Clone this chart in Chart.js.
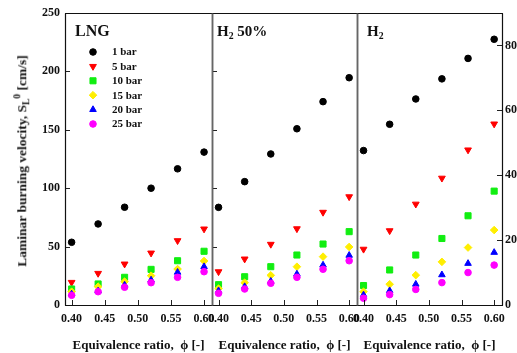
<!DOCTYPE html>
<html>
<head>
<meta charset="utf-8">
<script src="https://cdn.jsdelivr.net/npm/chart.js@4/dist/chart.umd.min.js"></script>
<style>
  body { margin:0; background:#fff; }
  #wrap { position:relative; width:517px; height:353px; overflow:hidden; font-family:'Liberation Serif','Times New Roman',serif; }
  canvas { position:absolute; top:0; }
  .lbl { position:absolute; font-weight:bold; color:#111; white-space:nowrap; line-height:1; }
  .lbl sub { font-size:65%; vertical-align:-3px; line-height:0; }
  .ytitle { position:absolute; left:22px; top:161px; transform:translate(-50%,-50%) rotate(-90deg);
            white-space:nowrap; font-weight:bold; font-size:13.5px; color:#111; line-height:1; }
  .ytitle sub { font-size:70%; vertical-align:-3px; line-height:0; }
  .ytitle sup { font-size:70%; vertical-align:6px; line-height:0; }
</style>
</head>
<body>
<div id="wrap">
  <canvas id="cLng" width="232" height="353" style="left:0px"></canvas>
  <canvas id="cMix" width="185" height="353" style="left:192px"></canvas>
  <canvas id="cH2" width="180" height="353" style="left:337px"></canvas>
  <div class="ytitle">Laminar burning velocity, S<sub>L</sub><sup>0</sup> [cm/s]</div>
  <div class="lbl" style="left:75px;top:23px;font-size:16px">LNG</div>
  <div class="lbl" style="left:217px;top:24px;font-size:15px">H<sub>2</sub> 50%</div>
  <div class="lbl" style="left:367px;top:24px;font-size:15px">H<sub>2</sub></div>
</div>
<script>
// DATA
const phi = [0.40, 0.44, 0.48, 0.52, 0.56, 0.60];
const pressures = ['1 bar', '5 bar', '10 bar', '15 bar', '20 bar', '25 bar'];
const xTicks = [0.40, 0.45, 0.50, 0.55, 0.60];
const yTicksLeft = [0, 50, 100, 150, 200, 250];
const yTicksRight = [0, 20, 40, 60, 80];

// LNG [cm/s]
const lng1  = [53.7, 69.4, 83.7, 100.0, 116.6, 130.9];
const lng5  = [19.4, 27.1, 35.1, 44.5, 55.1, 65.1];
const lng10 = [13.7, 18.0, 23.7, 30.5, 37.9, 46.0];
const lng15 = [11.4, 15.7, 20.0, 25.1, 30.8, 37.7];
const lng20 = [9.4, 12.0, 17.1, 21.4, 28.0, 32.8];
const lng25 = [8.3, 11.4, 15.2, 19.1, 23.7, 28.5];

// H2 50% [cm/s]
const mix1  = [83.6, 105.6, 129.3, 150.9, 174.1, 194.6];
const mix5  = [28.5, 39.4, 52.0, 65.3, 79.4, 92.7];
const mix10 = [17.4, 24.2, 32.8, 42.8, 52.2, 62.8];
const mix15 = [14.0, 19.1, 25.4, 32.8, 41.4, 49.7];
const mix20 = [12.2, 15.7, 20.3, 26.5, 34.2, 42.5];
const mix25 = [10.0, 13.7, 18.6, 23.7, 30.6, 37.9];

// H2 (right axis)
const h2_1  = [47.6, 55.7, 63.5, 69.7, 76.0, 81.9];
const h2_5  = [17.2, 22.9, 31.1, 39.1, 47.8, 55.8];
const h2_10 = [6.0, 10.8, 15.4, 20.5, 27.5, 35.1];
const h2_15 = [4.1, 6.4, 9.2, 13.3, 17.7, 23.1];
const h2_20 = [3.1, 4.4, 6.4, 9.3, 12.8, 16.2];
const h2_25 = [2.1, 3.2, 4.8, 6.9, 10.0, 12.3];

// marker styles per pressure
const markers = [
  {color:'#000000', style:'circle',   rot:0,   r:3.3},
  {color:'#ff0000', style:'triangle', rot:180, r:3.9},
  {color:'#11ee11', style:'rect',     rot:0,   r:4.3},
  {color:'#ffee00', style:'rectRot',  rot:0,   r:3.8},
  {color:'#0000ff', style:'triangle', rot:0,   r:3.8},
  {color:'#ff00ff', style:'circle',   rot:0,   r:3.3}
];

const FONT = "'Liberation Serif','Times New Roman',serif";

function buildSets(series){
  return series.map((vals, i) => ({
    label: pressures[i],
    data: vals.map((v, k) => ({x: phi[k], y: v})),
    backgroundColor: markers[i].color,
    borderColor: markers[i].color,
    borderWidth: 1,
    pointStyle: markers[i].style,
    rotation: markers[i].rot,
    pointRadius: markers[i].r,
    showLine: false,
    order: series.length - i,
    clip: false
  }));
}

// inward tick marks + panel frame
const framePlugin = {
  id: 'frame',
  afterDraw(chart, args, o){
    const {ctx, chartArea:a, scales} = chart;
    ctx.save();
    ctx.strokeStyle = '#222';
    ctx.lineWidth = 1;
    ctx.beginPath();
    xTicks.forEach(v => {
      const x = Math.round(scales.x.getPixelForValue(v)) + 0.5;
      ctx.moveTo(x, a.bottom); ctx.lineTo(x, a.bottom - 5);
    });
    const ys = scales.y;
    if (o.leftTicks) yTicksLeft.forEach(v => {
      const y = Math.round(ys.getPixelForValue(v)) + 0.5;
      ctx.moveTo(a.left, y); ctx.lineTo(a.left + 5, y);
    });
    if (o.rightTicks) yTicksRight.forEach(v => {
      const y = Math.round(ys.getPixelForValue(v)) + 0.5;
      ctx.moveTo(a.right, y); ctx.lineTo(a.right - 5, y);
    });
    ctx.stroke();
    // sides
    const side = (x1, y1, x2, y2, col, lw) => {
      ctx.strokeStyle = col; ctx.lineWidth = lw;
      ctx.beginPath(); ctx.moveTo(x1, y1); ctx.lineTo(x2, y2); ctx.stroke();
    };
    const L = Math.round(a.left) + 0.5, R = Math.round(a.right) + 0.5;
    const T = Math.round(a.top) + 0.5, B = Math.round(a.bottom) + 0.5;
    side(L - 0.5, T, R + 0.5, T, '#111', 1.2);
    side(L - 0.5, B, R + 0.5, B, '#111', 1.2);
    side(L, T, L, B, o.leftCol, o.leftW);
    side(R, T, R, B, o.rightCol, o.rightW);
    ctx.restore();
  }
};

// legend drawn inside LNG panel
const legendPlugin = {
  id: 'insideLegend',
  afterDatasetsDraw(chart, args, o){
    if (!o.show) return;
    const ctx = chart.ctx;
    const drawPoint = Chart.helpers && Chart.helpers.drawPoint;
    ctx.save();
    chart.data.datasets.forEach((ds, i) => {
      const y = o.y + i * o.gap;
      if (drawPoint) {
        ctx.fillStyle = ds.backgroundColor;
        ctx.strokeStyle = ds.borderColor;
        ctx.lineWidth = 1;
        drawPoint(ctx, {pointStyle: ds.pointStyle, rotation: ds.rotation, radius: ds.pointRadius, borderWidth: 1}, o.x, y);
      }
      ctx.fillStyle = '#111';
      ctx.font = 'bold 11px ' + FONT;
      ctx.textBaseline = 'middle';
      ctx.textAlign = 'left';
      ctx.fillText(ds.label, o.textX, y + 0.5);
    });
    ctx.restore();
  }
};

function makePanel(id, series, cfg){
  const tickFont = {family: FONT, size: 12, weight: 'bold'};
  return new Chart(document.getElementById(id), {
    type: 'scatter',
    data: {datasets: buildSets(series)},
    plugins: [framePlugin, legendPlugin],
    options: {
      responsive: false,
      animation: false,
      events: [],
      layout: {padding: cfg.padding},
      scales: {
        x: {
          type: 'linear', min: 0.39, max: 0.612,
          grid: {display: false, drawTicks: false}, border: {display: false},
          afterBuildTicks: s => { s.ticks = xTicks.map(v => ({value: v})); },
          afterFit: s => { s.height = 48; },
          ticks: {padding: 7, autoSkip: false, maxRotation: 0, color: '#111', font: tickFont,
                  callback: v => Number(v).toFixed(2)},
          title: {display: true, text: 'Equivalence ratio,  \u03D5 [-]', color: '#111',
                  font: {family: FONT, size: 13, weight: 'bold'}, padding: {top: 0, bottom: 0}}
        },
        y: {
          type: 'linear', position: cfg.yPos, display: cfg.yShow,
          min: 0, max: cfg.yMax,
          grid: {display: false, drawTicks: false}, border: {display: false},
          afterBuildTicks: s => { s.ticks = cfg.yTicks.map(v => ({value: v})); },
          afterFit: s => { s.width = cfg.yWidth; },
          ticks: {padding: cfg.yPad, color: '#111', font: tickFont}
        }
      },
      plugins: {
        legend: {display: false},
        tooltip: {enabled: false},
        frame: cfg.frame,
        insideLegend: cfg.legend || {show: false}
      }
    }
  });
}

makePanel('cLng', [lng1, lng5, lng10, lng15, lng20, lng25], {
  padding: {left: 0, right: 20, top: 13, bottom: 0},
  yPos: 'left', yShow: true, yMax: 250, yTicks: yTicksLeft, yWidth: 65, yPad: 5,
  frame: {leftTicks: true, rightTicks: false, leftCol: '#111', leftW: 1.2, rightCol: '#666', rightW: 1.5},
  legend: {show: true, x: 93, textX: 112, y: 52, gap: 14.4}
});

makePanel('cMix', [mix1, mix5, mix10, mix15, mix20, mix25], {
  padding: {left: 20, right: 20, top: 13, bottom: 0},
  yPos: 'left', yShow: false, yMax: 250, yTicks: yTicksLeft, yWidth: 0, yPad: 5,
  frame: {leftTicks: true, rightTicks: false, leftCol: '#666', leftW: 1.5, rightCol: '#666', rightW: 1.5}
});

makePanel('cH2', [h2_1, h2_5, h2_10, h2_15, h2_20, h2_25], {
  padding: {left: 20, right: 0, top: 13, bottom: 0},
  yPos: 'right', yShow: true, yMax: 90, yTicks: yTicksRight, yWidth: 15, yPad: 3,
  frame: {leftTicks: false, rightTicks: true, leftCol: '#666', leftW: 1.5, rightCol: '#111', rightW: 1.2}
});
</script>
</body>
</html>
